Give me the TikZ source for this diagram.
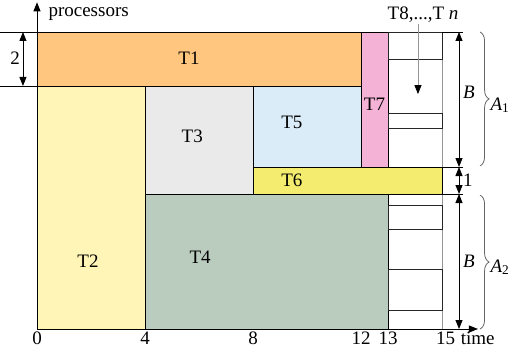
\documentclass[tikz,border=0pt]{standalone}
\usepackage{fontspec}
\setmainfont{Liberation Serif}
\usetikzlibrary{arrows.meta,decorations.pathreplacing}
\definecolor{cTone}{RGB}{255,198,128}
\definecolor{cTtwo}{RGB}{255,245,182}
\definecolor{cTthree}{RGB}{234,234,234}
\definecolor{cTfour}{RGB}{185,204,189}
\definecolor{cTfive}{RGB}{218,236,248}
\definecolor{cTsix}{RGB}{243,236,110}
\definecolor{cTseven}{RGB}{243,178,214}
\definecolor{colline}{RGB}{150,150,150}
\begin{document}
\begin{tikzpicture}[x=27pt,y=27pt,
  font=\rmfamily\fontsize{19}{23}\selectfont,
  line width=0.9pt,
  lbl/.style={anchor=base, inner sep=0pt},
  arr/.style={-{Triangle[length=9pt,width=7pt]}},
  darr/.style={{Triangle[length=9pt,width=7pt]}-{Triangle[length=9pt,width=7pt]}},
  brc/.style={decorate, decoration={brace, amplitude=9pt}, draw=black!60, line width=0.8pt},
  slot/.style={draw=black!85}]
\useasboundingbox (-37pt,-25pt) rectangle (475pt,329pt);

% task rectangles
\filldraw[fill=cTone]   (0,9) rectangle (12,11);
\filldraw[fill=cTtwo]   (0,0) rectangle (4,9);
\filldraw[fill=cTthree] (4,5) rectangle (8,9);
\filldraw[fill=cTfive]  (8,6) rectangle (12,9);
\filldraw[fill=cTseven] (12,6) rectangle (13,11);
\filldraw[fill=cTfour]  (4,0) rectangle (13,5);

% right column (T8..Tn)
\draw[colline] (15,6) -- (15,11) (15,0) -- (15,5) (13,5) -- (15,5);
\draw[slot] (13,10) rectangle (15,11);
\draw[slot] (13,7.41) rectangle (15,8);
\draw[slot] (13,3.70) rectangle (15,4.59);
\draw[slot] (13,0.67) rectangle (15,2.19);
\filldraw[fill=cTsix]   (8,5) rectangle (15,6);

% extension lines
\draw (-1.37,11) -- (0,11);
\draw (-1.37,9) -- (0,9);
\draw (15,11) -- (15.78,11);
\draw (15,6) -- (15.78,6);
\draw (15,5) -- (15.78,5);

% dimension arrows
\coordinate (d2a) at (-0.52,9);
\coordinate (d2b) at (-0.52,11);
\draw[darr] (d2a) -- (d2b);
\coordinate (b1a) at (15.63,6);
\coordinate (b1b) at (15.63,11);
\draw[darr] (b1a) -- (b1b);
\coordinate (oa) at (15.63,5);
\draw[darr] (oa) -- (b1a);
\coordinate (b2a) at (15.63,0);
\draw[darr] (b2a) -- (oa);

% braces
\draw[brc] (16.41,11) -- (16.41,6.04);
\draw[brc] (16.41,4.96) -- (16.41,0);

% axes
\coordinate (O) at (0,0);
\coordinate (ytop) at (0,12.1);
\coordinate (xend) at (16.33,0);
\draw[arr] (O) -- (ytop);
\draw[arr] (O) -- (xend);

% labels
\node[lbl, anchor=base west] (proc) at (0.41,11.59) {processors};
\node[lbl] (l2) at (-0.81,9.78) {2};
\node[lbl] (t1) at (5.63,9.78) {T1};
\node[lbl] (t2) at (1.89,2.26) {T2};
\node[lbl] (t3) at (5.75,6.89) {T3};
\node[lbl] (t4) at (6.04,2.41) {T4};
\node[lbl] (t5) at (9.44,7.41) {T5};
\node[lbl] (t6) at (9.44,5.26) {T6};
\node[lbl] (t7) at (12.5,8.11) {T7};
\node[lbl] (tn) at (14.3,11.48) {T8,...,T \textit{n}};
\node[lbl] (bu) at (16.0,8.52) {\textit{B}};
\node[lbl] (bl) at (16.0,2.26) {\textit{B}};
\node[lbl] (one) at (15.96,5.26) {1};
\node[lbl, anchor=base west] (a1) at (16.78,8.11) {\textit{A}\textsubscript{1}};
\node[lbl, anchor=base west] (a2) at (16.78,2.11) {\textit{A}\textsubscript{2}};
\node[lbl] (x0) at (0,-0.59) {0};
\node[lbl] (x4) at (4,-0.59) {4};
\node[lbl] (x8) at (8,-0.59) {8};
\node[lbl] (x12) at (12,-0.59) {12};
\node[lbl] (x13) at (13,-0.59) {13};
\node[lbl] (x15) at (15.13,-0.59) {15};
\node[lbl] (time) at (16.32,-0.59) {time};

% T8..Tn arrow
\coordinate (tnfrom) at (14.11,11.3);
\coordinate (tnto) at (14.11,8.7);
\draw[colline, -{Triangle[length=9pt,width=7pt,color=black]}] (tnfrom) -- (tnto);
\end{tikzpicture}
\end{document}
